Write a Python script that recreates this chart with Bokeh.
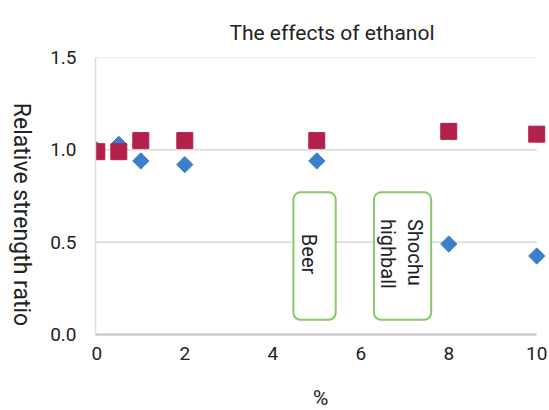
import math
from bokeh.plotting import figure
from bokeh.layouts import row, column
from bokeh.models import Range1d, FixedTicker, NumeralTickFormatter, Label, BoxAnnotation
from bokeh.embed import file_html
from bokeh.resources import INLINE

# ---- data ----
title_text = "The effects of ethanol"
x_label = "%"
y_label = "Relative strength ratio"
ethanol_pct = [0, 0.5, 1, 2, 5, 8, 10]
square_series = [0.99, 0.99, 1.05, 1.05, 1.05, 1.10, 1.085]
diamond_series = [1.00, 1.03, 0.94, 0.92, 0.94, 0.49, 0.425]
x_ticks = [0, 2, 4, 6, 8, 10]
y_ticks = [0.0, 0.5, 1.0, 1.5]
drink_names = ["Beer", "Shochu\nhighball"]
drink_pct = [5, 7]

FONT = "Roboto"
TXT = "#222222"
W, H = 549, 410
SIDE_W = 45
TOP_H = 44
BOT_H = 36
MAIN_W = W - SIDE_W
MAIN_H = H - TOP_H - BOT_H
STRIP_DX = -22  # measured horizontal correction for the strip labels


def strip(w, h):
    f = figure(width=w, height=h, title=None, output_backend="svg", toolbar_location=None,
               x_range=Range1d(0, w), y_range=Range1d(0, h),
               x_axis_type=None, y_axis_type=None, min_border=0)
    f.outline_line_color = None
    f.grid.visible = False
    return f


# left strip: y-axis title (reads top to bottom)
side = strip(SIDE_W, H)
side.add_layout(Label(x=20.5, y=H - 214, text=y_label, angle=-math.pi / 2,
                      text_align="center", text_baseline="middle",
                      text_font=FONT, text_font_size="23px", text_color=TXT))

# top strip: chart title
top = strip(MAIN_W, TOP_H)
top.add_layout(Label(x=329.5 - SIDE_W + STRIP_DX, y=TOP_H - 32, text=title_text,
                     text_align="center", text_baseline="alphabetic",
                     text_font=FONT, text_font_size="21px", text_color=TXT,
                     text_line_height=1.0))

# bottom strip: x-axis title
bottom = strip(MAIN_W, BOT_H)
bottom.add_layout(Label(x=317 - SIDE_W + STRIP_DX, y=H - 397, text=x_label,
                        text_align="center", text_baseline="middle",
                        text_font=FONT, text_font_size="21px", text_color=TXT,
                        text_line_height=1.0))

p = figure(width=MAIN_W, height=MAIN_H, title=None, output_backend="svg", toolbar_location=None,
           x_range=Range1d(-0.03, 10.29), y_range=Range1d(0, 1.5),
           min_border_left=95 - SIDE_W, min_border_right=0,
           min_border_top=57 - TOP_H, min_border_bottom=(H - BOT_H) - 334)
p.outline_line_color = None
p.background_fill_color = "white"

# axes
for ax in (p.xaxis[0], p.yaxis[0]):
    ax.major_tick_out = 0
    ax.major_tick_in = 0
    ax.minor_tick_out = 0
    ax.minor_tick_in = 0
    ax.major_label_text_font = FONT
    ax.major_label_text_font_size = "19px"
    ax.major_label_text_color = TXT
p.xaxis.ticker = FixedTicker(ticks=x_ticks)
p.yaxis.ticker = FixedTicker(ticks=y_ticks)
p.yaxis.formatter = NumeralTickFormatter(format="0.0")
p.xaxis.major_label_standoff = 12
p.yaxis.major_label_standoff = 19
p.xaxis.axis_line_color = "#cccccc"
p.xaxis.axis_line_width = 2.5
p.xaxis.bounds = (x_ticks[0] - 0.03, x_ticks[-1])
p.yaxis.axis_line_color = "#d6e0e4"
p.yaxis.axis_line_width = 1.5

# grid lines (horizontal only, ending at the last x tick)
p.xgrid.visible = False
p.ygrid.visible = False
grid_y = [v for v in y_ticks if v > 0]
p.segment(x0=[x_ticks[0] - 0.03] * len(grid_y), x1=[x_ticks[-1]] * len(grid_y),
          y0=grid_y, y1=grid_y, line_color="#d9d9d9", line_width=1.5, level="underlay")

# drink boxes
box_half = [0.48, 0.65]
box_text_top = [0.545, 0.626]
text_dx = [-0.12, -0.02]
line_gap = 0.61  # spacing between text lines, in x units
for name, pct, hw, ty, dx in zip(drink_names, drink_pct, box_half, box_text_top, text_dx):
    c = pct - 0.05
    p.add_layout(BoxAnnotation(left=c - hw, right=c + hw, bottom=0.08, top=0.77,
                               fill_color="white", fill_alpha=1.0,
                               line_color="#8cc66b", line_width=2, line_alpha=1.0,
                               border_radius=7))
    lines = name.split("\n")
    n = len(lines)
    for i, ln in enumerate(lines):
        lx = c + dx + (n - 1) / 2 * line_gap - i * line_gap
        p.add_layout(Label(x=lx, y=ty, text=ln, angle=-math.pi / 2,
                           text_align="left", text_baseline="middle",
                           text_font=FONT, text_font_size="20px", text_color=TXT))

# markers
p.scatter(ethanol_pct, diamond_series, marker="square", angle=math.pi / 4, size=11.5,
          fill_color="#3b7ecb", line_color="#3b7ecb")
p.scatter(ethanol_pct, square_series, marker="square", size=16,
          fill_color="#b3204a", line_color="#b3204a")

layout = row(side, column(top, p, bottom, spacing=0), spacing=0)
open("out.html", "w").write(file_html(layout, INLINE))
